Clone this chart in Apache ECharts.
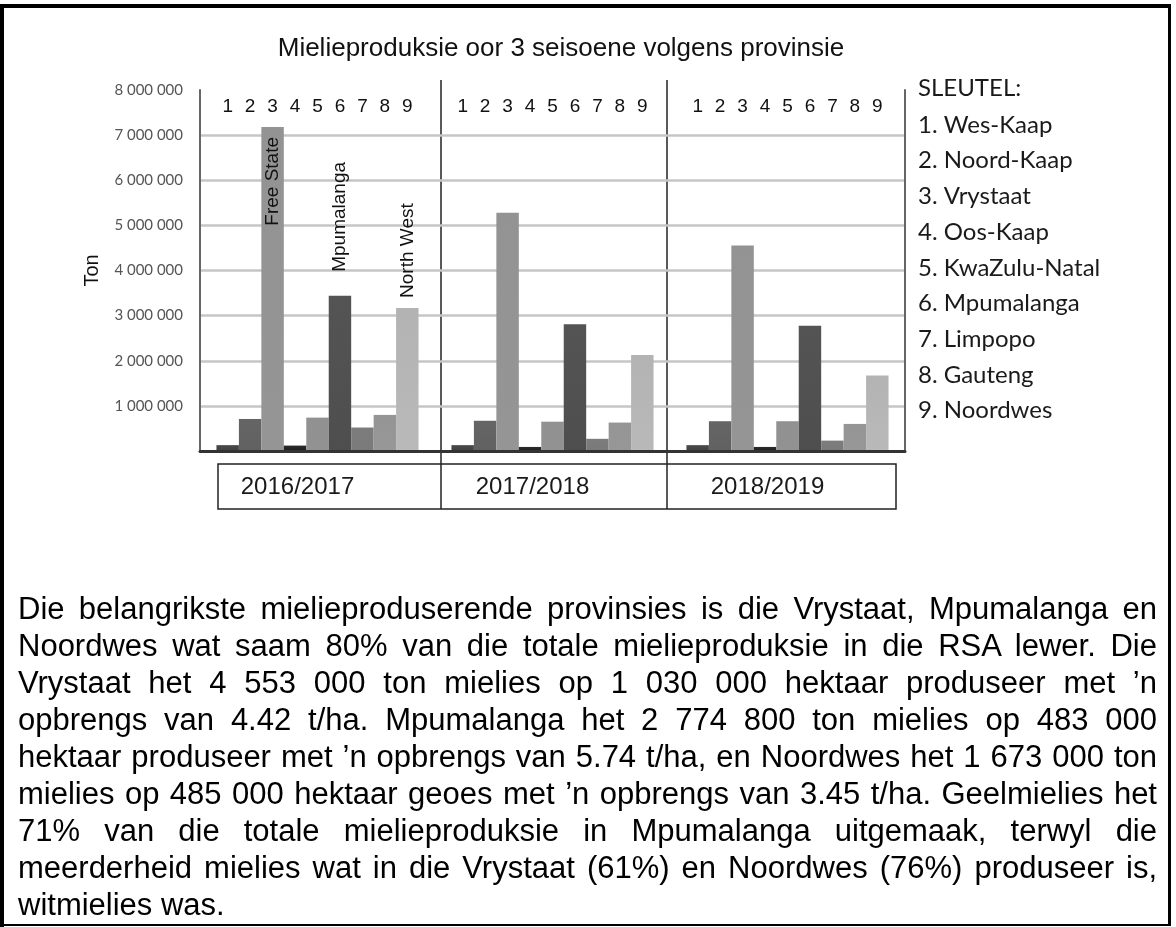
<!DOCTYPE html>
<html>
<head>
<meta charset="utf-8">
<title>Mielieproduksie</title>
<script src="https://cdn.jsdelivr.net/npm/echarts@6/dist/echarts.min.js"></script>
<style>
  html, body { margin: 0; padding: 0; background: #fff; }
  #page { position: relative; width: 1176px; height: 927px; overflow: hidden; }
  #chart { position: absolute; left: 0; top: 0; width: 1176px; height: 927px; }
  .edge { position: absolute; background: #000; }
  #text {
    position: absolute; left: 18px; top: 590px; width: 1139px;
    font-family: "Liberation Sans", Arial, sans-serif; font-size: 31px;
    line-height: 37px; color: #000;
  }
  #text div { text-align: justify; text-align-last: justify; }
  #text div.last { text-align-last: left; }
</style>
</head>
<body>
<div id="page">
  <div id="chart"></div>
  <div class="edge" style="left:0;top:4px;width:1171px;height:4px"></div>
  <div class="edge" style="left:0;top:4px;width:4px;height:923px"></div>
  <div class="edge" style="left:1168px;top:4px;width:3px;height:922px"></div>
  <div class="edge" style="left:0;top:924px;width:1171px;height:2px"></div>
  <div id="text">
    <div>Die belangrikste mielieproduserende provinsies is die Vrystaat, Mpumalanga en</div>
    <div>Noordwes wat saam 80% van die totale mielieproduksie in die RSA lewer. Die</div>
    <div>Vrystaat het 4 553 000 ton mielies op 1 030 000 hektaar produseer met ’n</div>
    <div>opbrengs van 4.42 t/ha. Mpumalanga het 2 774 800 ton mielies op 483 000</div>
    <div>hektaar produseer met ’n opbrengs van 5.74 t/ha, en Noordwes het 1 673 000 ton</div>
    <div>mielies op 485 000 hektaar geoes met ’n opbrengs van 3.45 t/ha. Geelmielies het</div>
    <div>71% van die totale mielieproduksie in Mpumalanga uitgemaak, terwyl die</div>
    <div>meerderheid mielies wat in die Vrystaat (61%) en Noordwes (76%) produseer is,</div>
    <div class="last">witmielies was.</div>
  </div>
</div>
<script>
// seisoene en provinsies
const seasons = ['2016/2017', '2017/2018', '2018/2019'];
const provinces = ['Wes-Kaap', 'Noord-Kaap', 'Vrystaat', 'Oos-Kaap', 'KwaZulu-Natal',
  'Mpumalanga', 'Limpopo', 'Gauteng', 'Noordwes'];

// produksie in ton, in dieselfde volgorde as provinces
const prod2016 = [130000, 710000, 7180000, 120000, 740000, 3440000, 520000, 800000, 3170000];
const prod2017 = [130000, 670000, 5280000, 90000, 650000, 2810000, 270000, 630000, 2130000];
const prod2018 = [130000, 660000, 4553000, 90000, 660000, 2774800, 230000, 600000, 1673000];

// engelse name op die 2016/2017 kolomme
const tags2016 = ['', '', 'Free State', '', '', 'Mpumalanga', '', '', 'North West'];

const yMax = 8000000;
const yStep = 1000000;

const seasonValues = [prod2016, prod2017, prod2018];
const barColors = ['#3e3e3e', '#5c5c5c', '#8d8d8d', '#1e1e1e', '#8a8a8a',
  '#4a4a4a', '#747474', '#8f8f8f', '#afafaf'];
const tagGap = { 2: 10, 5: -24, 8: -10 };
const categoryGap = 0.14;
const arial = '"Liberation Sans", Arial, sans-serif';

function spaced(v) {
  return String(v).replace(/\B(?=(\d{3})+(?!\d))/g, ' ');
}

function tagLabel(text, j) {
  const inside = tagGap[j] > 0;
  return {
    show: true,
    formatter: text,
    rotate: 90,
    position: ['50%', tagGap[j]],
    align: inside ? 'right' : 'left',
    verticalAlign: 'middle',
    fontFamily: arial,
    fontSize: 19,
    color: '#111'
  };
}

const barSeries = provinces.map((name, j) => ({
  name: name,
  type: 'bar',
  barGap: '0%',
  barCategoryGap: categoryGap * 100 + '%',
  emphasis: { disabled: true },
  itemStyle: {
    color: new echarts.graphic.LinearGradient(0, 0, 0, 1, [
      { offset: 0, color: echarts.color.lift(barColors[j], 0.06) },
      { offset: 1, color: echarts.color.lift(barColors[j], -0.06) }
    ])
  },
  data: seasonValues.map((vals, c) => {
    const item = { value: vals[j] };
    if (c === 0 && tags2016[j]) item.label = tagLabel(tags2016[j], j);
    return item;
  })
}));

// nommers 1..9 bo elke kolom
const numberSeries = {
  type: 'custom',
  silent: true,
  z: 6,
  data: seasons.flatMap((s, c) => provinces.map((p, j) => [c, j])),
  renderItem: function (params, api) {
    const c = api.value(0);
    const j = api.value(1);
    const pt = api.coord([c, 7620000]);
    const band = api.size([1, 0])[0];
    const group = band * (1 - categoryGap);
    const w = group / provinces.length;
    return {
      type: 'text',
      x: pt[0] - group / 2 + (j + 0.5) * w,
      y: pt[1],
      style: {
        text: String(j + 1),
        align: 'center',
        verticalAlign: 'middle',
        fontFamily: arial,
        fontSize: 19,
        fill: '#111'
      }
    };
  }
};

const chart = echarts.init(document.getElementById('chart'));
chart.setOption({
  animation: false,
  backgroundColor: '#fff',
  title: [
    {
      text: 'Mielieproduksie oor 3 seisoene volgens provinsie',
      left: 561, top: 36, padding: 0, textAlign: 'center',
      textStyle: { fontFamily: arial, fontSize: 26, fontWeight: 'normal', color: '#111' }
    },
    {
      text: 'SLEUTEL:',
      left: 918, top: 76, padding: 0,
      textStyle: { fontFamily: 'Lato', fontSize: 24, fontWeight: 'normal', color: '#1a1a1a' }
    }
  ],
  legend: {
    data: provinces,
    orient: 'vertical',
    left: 913, top: 113, padding: 0,
    icon: 'none', itemWidth: 0, itemHeight: 24, itemGap: 11.7,
    selectedMode: false,
    formatter: name => (provinces.indexOf(name) + 1) + '. ' + name,
    textStyle: { fontFamily: 'Lato', fontSize: 24, color: '#1a1a1a', lineHeight: 24 }
  },
  grid: { left: 200, right: 271, top: 90, bottom: 476, containLabel: false, outerBoundsMode: 'none' },
  xAxis: {
    type: 'category',
    data: seasons,
    z: 5,
    axisLine: { lineStyle: { color: '#333', width: 3 } },
    axisTick: { show: false },
    axisLabel: {
      margin: 24, fontFamily: arial, fontSize: 24, color: '#1a1a1a',
      padding: [0, 40, 0, 0]
    }
  },
  yAxis: [
    {
      type: 'value', min: 0, max: yMax, interval: yStep,
      name: 'Ton', nameLocation: 'middle', nameGap: 98,
      nameTextStyle: { fontFamily: arial, fontSize: 20, color: '#111' },
      axisLine: { show: true, lineStyle: { color: '#666', width: 2 } },
      axisTick: { show: false },
      axisLabel: {
        margin: 17, fontFamily: 'Lato', fontSize: 15, color: '#555',
        formatter: v => (v === 0 ? '' : spaced(v))
      },
      splitLine: {
        show: true, showMinLine: false, showMaxLine: false,
        lineStyle: { color: '#c6c6c6', width: 2.5 }
      }
    },
    {
      type: 'value', position: 'right', min: 0, max: yMax, interval: yStep,
      axisLine: { show: true, lineStyle: { color: '#666', width: 2 } },
      axisTick: { show: false },
      axisLabel: { show: false },
      splitLine: { show: false }
    }
  ],
  graphic: [
    { type: 'rect', shape: { x: 218, y: 464, width: 678, height: 45 },
      style: { fill: 'none', stroke: '#222', lineWidth: 1.5 } },
    { type: 'line', shape: { x1: 441, y1: 80, x2: 441, y2: 509 },
      style: { stroke: '#222', lineWidth: 1.5 } },
    { type: 'line', shape: { x1: 667, y1: 80, x2: 667, y2: 509 },
      style: { stroke: '#222', lineWidth: 1.5 } }
  ],
  series: barSeries.concat([numberSeries])
});
</script>
</body>
</html>
